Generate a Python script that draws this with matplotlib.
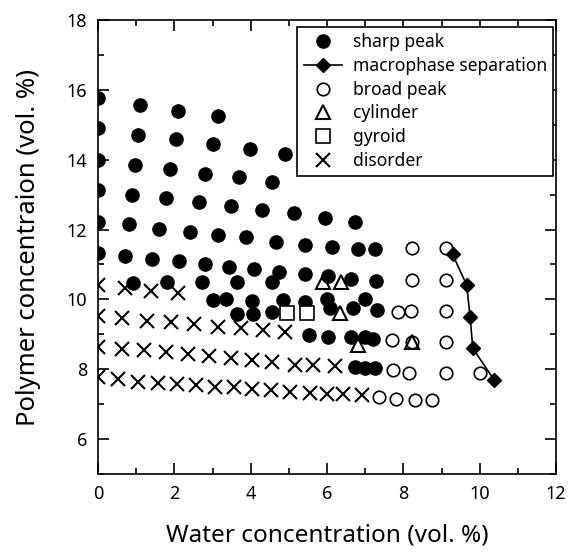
import matplotlib
matplotlib.use("Agg")
import matplotlib.pyplot as plt
from matplotlib.lines import Line2D
from matplotlib.ticker import MultipleLocator

plt.rcParams['font.family'] = ['Noto Sans', 'DejaVu Sans']

# sharp peak
sharp_x = [0, 1.10, 2.10, 3.15,
           0, 1.06, 2.04, 3.00, 3.98, 4.90,
           0, 0.97, 1.89, 2.80, 3.70, 4.57,
           0, 0.88, 1.77, 2.65, 3.48, 4.30, 5.13, 5.95, 6.73,
           0, 0.81, 1.61, 2.41, 3.15, 3.89, 4.66, 5.42, 6.12, 6.82, 7.27,
           0, 0.72, 1.41, 2.12, 2.80, 3.43, 4.10, 4.74, 5.42, 6.03, 6.64, 7.28,
           0.93, 1.80, 2.72, 3.63, 4.55,
           3.02, 3.35, 4.04, 4.85, 5.42, 5.99, 6.99,
           6.08, 6.69, 7.30,
           3.63, 4.07, 4.55,
           5.53, 6.03, 6.64, 6.99, 7.21,
           6.73, 6.99, 7.26]
sharp_y = [15.76, 15.57, 15.40, 15.26,
           14.90, 14.71, 14.58, 14.45, 14.31, 14.16,
           14.00, 13.85, 13.73, 13.59, 13.50, 13.37,
           13.13, 12.99, 12.91, 12.78, 12.68, 12.56, 12.47, 12.32, 12.22,
           12.22, 12.15, 12.02, 11.92, 11.84, 11.78, 11.63, 11.56, 11.51, 11.44, 11.44,
           11.32, 11.24, 11.16, 11.11, 11.01, 10.94, 10.87, 10.79, 10.73, 10.68, 10.58, 10.54,
           10.46, 10.49, 10.49, 10.49, 10.49,
           9.98, 10.01, 9.96, 9.97, 9.93, 10.00, 10.00,
           9.74, 9.74, 9.70,
           9.58, 9.58, 9.63,
           8.98, 8.93, 8.93, 8.93, 8.86,
           8.07, 8.03, 8.03]

# macrophase separation
macro_x = [9.29, 9.66, 9.75, 9.82, 10.38]
macro_y = [11.29, 10.41, 9.49, 8.60, 7.69]

# broad peak
broad_x = [8.22, 9.13, 8.22, 9.13, 7.87, 8.19, 9.12, 7.69, 8.22, 9.12,
           7.74, 8.16, 9.12, 10.01, 7.37, 7.82, 8.30, 8.75]
broad_y = [11.46, 11.46, 10.56, 10.56, 9.65, 9.68, 9.68, 8.84, 8.77, 8.77,
           7.98, 7.88, 7.88, 7.88, 7.21, 7.15, 7.13, 7.13]

# cylinder
cyl_x = [5.90, 6.37, 6.34, 6.80, 8.22]
cyl_y = [10.51, 10.51, 9.60, 8.69, 8.77]

# gyroid
gyr_x = [4.94, 5.47]
gyr_y = [9.62, 9.62]

# disorder
dis_x = [0, 0.72, 1.39, 2.10,
         0, 0.64, 1.28, 1.91, 2.52, 3.15, 3.75, 4.33, 4.90,
         0, 0.62, 1.21, 1.77, 2.37, 2.91, 3.48, 4.04, 4.57, 5.16, 5.64, 6.21,
         0, 0.53, 1.06, 1.58, 2.08, 2.58, 3.06, 3.56, 4.04, 4.53, 5.03, 5.55, 5.99, 6.43, 6.91]
dis_y = [10.41, 10.32, 10.25, 10.19,
         9.52, 9.48, 9.39, 9.34, 9.30, 9.20, 9.17, 9.12, 9.08,
         8.65, 8.58, 8.55, 8.48, 8.44, 8.39, 8.31, 8.26, 8.20, 8.12, 8.12, 8.09,
         7.79, 7.71, 7.64, 7.61, 7.58, 7.55, 7.50, 7.50, 7.43, 7.41, 7.36, 7.31, 7.29, 7.29, 7.26]

labels = ['sharp peak', 'macrophase separation', 'broad peak', 'cylinder', 'gyroid', 'disorder']

fig = plt.figure(figsize=(5.70, 5.54), dpi=100)
ax = fig.add_axes([98/570, 80/554, 458/570, 454/554])

ax.plot(sharp_x, sharp_y, 'o', color='black', ms=9.5, ls='none', zorder=3)
ax.plot(macro_x, macro_y, '-D', color='black', ms=7, lw=1.2, zorder=4)
ax.plot(broad_x, broad_y, 'o', mfc='white', mec='black', mew=1.2, ms=9, ls='none', zorder=3)
ax.plot(cyl_x, cyl_y, '^', mfc='none', mec='black', mew=1.5, ms=9.5, ls='none', zorder=4)
ax.plot(gyr_x, gyr_y, 's', mfc='white', mec='black', mew=1.2, ms=9.5, ls='none', zorder=4)
ax.plot(dis_x, dis_y, 'x', color='black', mew=1.5, ms=10, ls='none', zorder=3)

ax.set_xlim(0, 12)
ax.set_ylim(5, 18)
ax.xaxis.set_major_locator(MultipleLocator(2))
ax.xaxis.set_minor_locator(MultipleLocator(1))
ax.yaxis.set_major_locator(MultipleLocator(2))
ax.yaxis.set_minor_locator(MultipleLocator(1))
ax.set_yticks([6, 8, 10, 12, 14, 16, 18])
ax.tick_params(which='both', direction='in', top=True, right=True, width=1.2, labelsize=13, pad=8)
ax.tick_params(which='major', length=8)
ax.tick_params(which='minor', length=4.5)
for s in ax.spines.values():
    s.set_linewidth(1.2)

ax.set_xlabel('Water concentration (vol. %)', fontsize=17.5, labelpad=15)
ax.set_ylabel('Polymer concentraion (vol. %)', fontsize=18.5, labelpad=18)

handles = [
    Line2D([], [], marker='o', color='black', ls='none', ms=9.5),
    Line2D([], [], marker='D', color='black', ls='-', lw=1.2, ms=7),
    Line2D([], [], marker='o', mfc='white', mec='black', mew=1.2, ls='none', ms=9),
    Line2D([], [], marker='^', mfc='none', mec='black', mew=1.5, ls='none', ms=9.5),
    Line2D([], [], marker='s', mfc='white', mec='black', mew=1.2, ls='none', ms=9.5),
    Line2D([], [], marker='x', color='black', mew=1.5, ls='none', ms=10),
]
leg = ax.legend(handles, labels, loc='upper right', bbox_to_anchor=(0.9934, 0.9846),
                borderaxespad=0, fontsize=12.6, frameon=True, fancybox=False,
                edgecolor='black', framealpha=1, handlelength=2.2, handletextpad=0.6,
                labelspacing=0.33, borderpad=0.35)
leg.get_frame().set_linewidth(1.2)
leg.set_zorder(10)

fig.savefig('out.png', dpi=100)
